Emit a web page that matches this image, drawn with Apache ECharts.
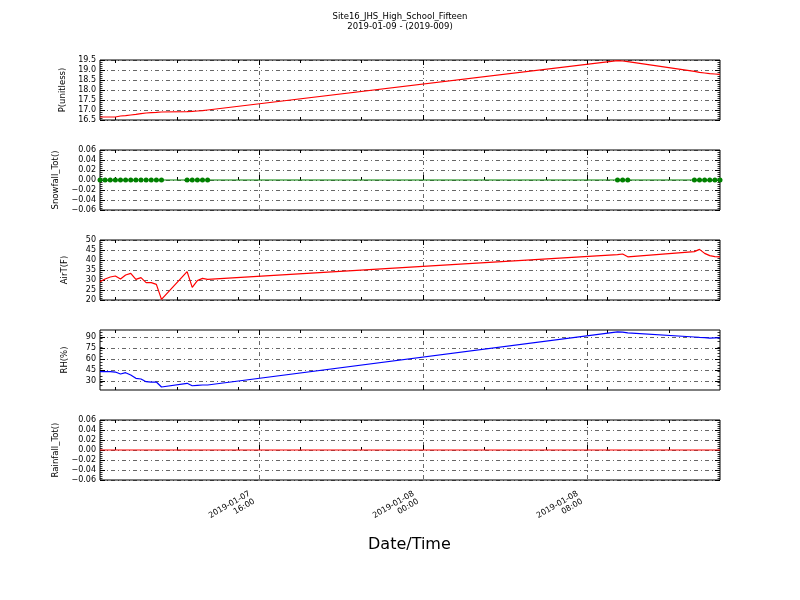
<!DOCTYPE html>
<html><head><meta charset="utf-8">
<script src="https://cdn.jsdelivr.net/npm/echarts@6/dist/echarts.min.js"></script>
<style>html,body{margin:0;padding:0;background:#fff}#c{width:800px;height:600px}</style>
</head><body><div id="c"></div>
<script>
const times = [
  '2019-01-07 08:15','2019-01-07 08:30','2019-01-07 08:45','2019-01-07 09:00','2019-01-07 09:15',
  '2019-01-07 09:30','2019-01-07 09:45','2019-01-07 10:00','2019-01-07 10:15','2019-01-07 10:30',
  '2019-01-07 10:45','2019-01-07 11:00','2019-01-07 11:15',
  '2019-01-07 12:30','2019-01-07 12:45','2019-01-07 13:00','2019-01-07 13:15','2019-01-07 13:30',
  '2019-01-08 09:30','2019-01-08 09:45','2019-01-08 10:00',
  '2019-01-08 13:15','2019-01-08 13:30','2019-01-08 13:45','2019-01-08 14:00','2019-01-08 14:15','2019-01-08 14:30'
];
const pressure = [16.65,16.65,16.65,16.65,16.70,16.72,16.75,16.78,16.82,16.85,16.87,16.88,16.90,
  16.92,16.93,16.95,16.97,17.00, 19.47,19.45,19.42, 18.93,18.88,18.85,18.82,18.80,18.78];
const snowfall = [0,0,0,0,0,0,0,0,0,0,0,0,0, 0,0,0,0,0, 0,0,0, 0,0,0,0,0,0];
const airTemp = [29.2,30.5,31.5,32.0,30.5,32.5,33.3,30.3,31.2,28.7,28.7,27.8,20.3,
  34.2,26.3,29.7,30.8,30.3, 42.7,43.0,41.6, 44.2,45.3,43.3,42.2,41.7,41.6];
const relHum = [43.0,43.0,43.0,42.4,39.7,41.5,38.4,33.9,32.9,29.3,28.8,28.8,22.1,
  27.1,23.8,24.4,24.8,24.8, 97.0,96.5,95.5, 90.0,89.5,89.2,88.5,88.8,89.0];
const rainfall = [0,0,0,0,0,0,0,0,0,0,0,0,0, 0,0,0,0,0, 0,0,0, 0,0,0,0,0,0];

const majorTicks = ['2019-01-07 16:00','2019-01-08 00:00','2019-01-08 08:00'];
const minorTicks = ['2019-01-07 09:00','2019-01-07 12:00','2019-01-07 15:00','2019-01-07 18:00','2019-01-07 21:00',
  '2019-01-08 03:00','2019-01-08 06:00','2019-01-08 09:00','2019-01-08 12:00'];
const rhTicks = [30,45,60,75,90];

const panelNames = ['P(unitless)','Snowfall_Tot()','AirT(F)','RH(%)','Rainfall_Tot()'];
const panelData = [pressure, snowfall, airTemp, relHum, rainfall];
const panelColors = ['#ff0000','#008000','#ff0000','#0000ff','#ff0000'];
const yRanges = [[16.5,19.5,0.5],[-0.06,0.06,0.02],[20,50,5],[18,99.5,null],[-0.06,0.06,0.02]];
const yDecimals = [1,2,0,0,2];

function t(s){return Date.UTC(+s.slice(0,4),+s.slice(5,7)-1,+s.slice(8,10),+s.slice(11,13),+s.slice(14,16));}
function pad(n){return (n<10?'0':'')+n;}
function fmtX(v){const d=new Date(v);return d.getUTCFullYear()+'-'+pad(d.getUTCMonth()+1)+'-'+pad(d.getUTCDate())+'\n'+pad(d.getUTCHours())+':'+pad(d.getUTCMinutes());}

const xMin=t(times[0]), xMax=t(times[times.length-1]);
const majVals=majorTicks.map(t), minVals=minorTicks.map(t);
const tops=[60,150,240,330,420];
const FONT='DejaVu Sans';
const gridLine={show:true,lineStyle:{color:'#000',width:0.6,type:[4,3,1,3]}};

const grid=[],xAxis=[],yAxis=[],series=[];
for(let i=0;i<5;i++){
  grid.push({left:100,right:80,top:tops[i],height:60,show:true,borderColor:'#000',borderWidth:1,backgroundColor:'transparent'});
  const base={gridIndex:i,type:'value',min:xMin,max:xMax,axisLine:{show:false}};
  xAxis.push(Object.assign({},base,{position:'bottom',
    axisTick:{show:true,inside:true,length:5,customValues:majVals,lineStyle:{color:'#000'}},
    axisLabel:{show:i===4,customValues:majVals,formatter:fmtX,rotate:30,fontSize:8,color:'#000',margin:13,fontFamily:FONT,lineHeight:9,padding:[0,8,0,0]},
    splitLine:gridLine}));
  xAxis.push(Object.assign({},base,{position:'bottom',
    axisTick:{show:true,inside:true,length:3,customValues:minVals,lineStyle:{color:'#000'}},
    axisLabel:{show:false},splitLine:{show:false}}));
  xAxis.push(Object.assign({},base,{position:'top',
    axisTick:{show:true,inside:true,length:5,customValues:majVals,lineStyle:{color:'#000'}},
    axisLabel:{show:false},splitLine:{show:false}}));
  xAxis.push(Object.assign({},base,{position:'top',
    axisTick:{show:true,inside:true,length:3,customValues:minVals,lineStyle:{color:'#000'}},
    axisLabel:{show:false},splitLine:{show:false}}));
  const r=yRanges[i], dec=yDecimals[i];
  const yb={gridIndex:i,type:'value',min:r[0],max:r[1],axisLine:{show:false}};
  if(r[2]!==null) yb.interval=r[2];
  const fmtY=v=>{let s=Number(v).toFixed(dec); if(s.charAt(0)==='-') s='\u2212'+s.slice(1); return s;};
  const tick={show:true,inside:true,length:5,lineStyle:{color:'#000'}};
  const lab={show:true,fontSize:8,color:'#000',margin:4,fontFamily:FONT,formatter:fmtY};
  if(r[2]===null){tick.customValues=rhTicks;lab.customValues=rhTicks;}
  const minor={show:true,splitNumber:5,length:2.5,lineStyle:{color:'#000',width:0.8}};
  yAxis.push(Object.assign({},yb,{position:'left',name:panelNames[i],nameLocation:'middle',nameRotate:90,nameGap:31,
    nameTextStyle:{fontSize:8.5,color:'#000',fontFamily:FONT},
    axisTick:tick,axisLabel:lab,minorTick:minor,splitLine:gridLine}));
  yAxis.push(Object.assign({},yb,{position:'right',axisTick:Object.assign({},tick,{}),axisLabel:{show:false},
    minorTick:minor,splitLine:{show:false}}));
  series.push({type:'line',xAxisIndex:i*4,yAxisIndex:i*2,
    data:times.map((s,k)=>[t(s),panelData[i][k]]),
    symbol:i===1?'circle':'none',symbolSize:5,showSymbol:i===1,
    itemStyle:{color:panelColors[i]},
    lineStyle:{color:panelColors[i],width:1.2},
    silent:true,animation:false,clip:true});
}

const chart=echarts.init(document.getElementById('c'),null,{renderer:'canvas'});
chart.setOption({
  animation:false,
  backgroundColor:'#fff',
  textStyle:{fontFamily:FONT},
  title:{text:'Site16_JHS_High_School_Fifteen\n2019-01-09 - (2019-009)',left:'center',top:7,
    textStyle:{fontSize:8.5,fontWeight:'normal',color:'#000',lineHeight:10,fontFamily:FONT}},
  graphic:[{type:'text',left:368,top:537,style:{text:'Date/Time',fontSize:16,fill:'#000',fontFamily:FONT}}],
  grid:grid,xAxis:xAxis,yAxis:yAxis,series:series
});
</script></body></html>
